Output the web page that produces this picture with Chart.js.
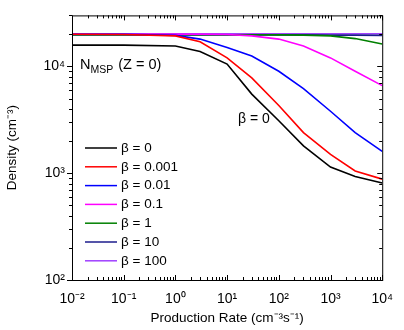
<!DOCTYPE html>
<html>
<head>
<meta charset="utf-8">
<script src="https://cdn.jsdelivr.net/npm/chart.js@4.4.1/dist/chart.umd.min.js"></script>
<style>
    html, body { margin: 0; padding: 0; background: #fff; }
</style>
</head>
<body>
<canvas id="densityChart" width="404" height="330"></canvas>
<script>
// 数据：产生率 与 各 β 下的密度
const rates = [0.01, 0.1, 1, 3, 10, 30, 100, 300, 1000, 3000, 10000];
const beta0    = [15800, 15800, 15500, 13800, 10500, 5500, 3100, 1800, 1140, 930, 810];
const beta0001 = [20000, 19900, 19300, 17000, 12000, 7800, 4300, 2400, 1500, 1050, 880];
const beta001  = [20000, 20000, 19500, 18000, 15000, 12500, 9000, 6200, 3800, 2400, 1600];
const beta01   = [20000, 20000, 20000, 20000, 19900, 19300, 18000, 15500, 12000, 9000, 6600];
const beta1    = [19800, 19800, 19800, 19800, 19800, 19800, 19700, 19600, 19300, 18200, 16200];
const beta10   = [19700, 19700, 19700, 19700, 19700, 19700, 19700, 19700, 19600, 19600, 19500];
const beta100  = [20200, 20200, 20200, 20200, 20200, 20200, 20200, 20200, 20200, 20200, 20200];

const seriesLabels = ['β = 0', 'β = 0.001', 'β = 0.01', 'β = 0.1', 'β = 1', 'β = 10', 'β = 100'];
const seriesColors = ['#000000', '#ff0000', '#0000ff', '#ff00ff', '#008000', '#1c1c8c', '#a040ff'];
const seriesValues = [beta0, beta0001, beta001, beta01, beta1, beta10, beta100];

const xTickValues = [1e-2, 1e-1, 1, 10, 100, 1000, 10000];
const xTickLabels = ['10⁻²', '10⁻¹', '10⁰', '10¹', '10²', '10³', '10⁴'];
const yTickValues = [100, 1000, 10000];
const yTickLabels = ['10²', '10³', '10⁴'];

const FONT = "'Liberation Sans', Arial, sans-serif";

// 边框与刻度线
const frameTicks = {
    id: 'frameTicks',
    afterDatasetsDraw(chart) {
        const { ctx, chartArea: a, scales: { x, y } } = chart;
        ctx.save();
        ctx.strokeStyle = '#000';
        ctx.lineWidth = 1;
        ctx.strokeRect(a.left + 0.5, a.top + 0.5, a.right - a.left, a.bottom - a.top);
        ctx.beginPath();
        for (let d = -2; d <= 4; d++) {
            for (let m = 1; m <= 9; m++) {
                const v = m * Math.pow(10, d);
                if (v > x.max * 1.0001) break;
                const px = Math.round(x.getPixelForValue(v)) + 0.5;
                const len = m === 1 ? 5 : 3;
                ctx.moveTo(px, a.bottom); ctx.lineTo(px, a.bottom - len);
                ctx.moveTo(px, a.top); ctx.lineTo(px, a.top + len);
            }
        }
        for (let d = 2; d <= 4; d++) {
            for (let m = 1; m <= 9; m++) {
                const v = m * Math.pow(10, d);
                if (v > y.max * 1.0001) break;
                const py = Math.round(y.getPixelForValue(v)) + 0.5;
                const len = m === 1 ? 5 : 3;
                ctx.moveTo(a.left - len, py); ctx.lineTo(a.left, py);
                ctx.moveTo(a.right - len, py); ctx.lineTo(a.right, py);
            }
        }
        ctx.stroke();
        ctx.restore();
    }
};

// 图内图例和标注
const insideLegend = {
    id: 'insideLegend',
    afterDraw(chart) {
        const ctx = chart.ctx;
        ctx.save();
        ctx.font = '13.5px ' + FONT;
        ctx.textBaseline = 'middle';
        ctx.fillStyle = '#000';
        chart.data.datasets.forEach((ds, i) => {
            const ly = 148 + i * 18.8;
            ctx.strokeStyle = ds.borderColor;
            ctx.lineWidth = 1.5;
            ctx.beginPath();
            ctx.moveTo(85, ly);
            ctx.lineTo(117, ly);
            ctx.stroke();
            ctx.fillText(ds.label, 121, ly);
        });

        ctx.font = '14.5px ' + FONT;
        ctx.textBaseline = 'alphabetic';
        ctx.fillText('N', 80, 69);
        let nx = 80 + ctx.measureText('N').width;
        ctx.font = '10.5px ' + FONT;
        ctx.fillText('MSP', nx, 73);
        nx += ctx.measureText('MSP').width + 1;
        ctx.font = '14.5px ' + FONT;
        ctx.fillText(' (Z = 0)', nx, 69);

        ctx.font = '14px ' + FONT;
        ctx.textBaseline = 'middle';
        ctx.fillText('β = 0', 238, 119);
        ctx.restore();
    }
};

const ctx = document.getElementById('densityChart').getContext('2d');
new Chart(ctx, {
    type: 'line',
    data: {
        datasets: seriesValues.map((vals, i) => ({
            label: seriesLabels[i],
            data: rates.map((r, j) => ({ x: r, y: vals[j] })),
            borderColor: seriesColors[i],
            borderWidth: 1.6,
            pointRadius: 0,
            tension: 0,
            fill: false
        }))
    },
    options: {
        responsive: false,
        animation: false,
        devicePixelRatio: 1,
        layout: { padding: { top: 10, right: 12, left: 0, bottom: 0 } },
        plugins: {
            legend: { display: false },
            tooltip: { enabled: false }
        },
        scales: {
            x: {
                type: 'logarithmic',
                min: 0.01,
                max: 10000,
                grid: { display: false, drawTicks: false },
                border: { display: false },
                afterBuildTicks: s => { s.ticks = xTickValues.map(v => ({ value: v })); },
                afterFit: s => { s.height = 50; },
                ticks: {
                    autoSkip: false,
                    maxRotation: 0,
                    padding: 11,
                    color: '#000',
                    font: { family: FONT, size: 14 },
                    callback: (v, i) => xTickLabels[i]
                },
                title: {
                    display: true,
                    text: 'Production Rate (cm⁻³s⁻¹)',
                    color: '#000',
                    font: { family: FONT, size: 13.5 },
                    padding: { top: 0, bottom: 4 }
                }
            },
            y: {
                type: 'logarithmic',
                min: 100,
                max: 30000,
                grid: { display: false, drawTicks: false },
                border: { display: false },
                afterBuildTicks: s => { s.ticks = yTickValues.map(v => ({ value: v })); },
                afterFit: s => { s.width = 72; },
                ticks: {
                    autoSkip: false,
                    padding: 7,
                    color: '#000',
                    font: { family: FONT, size: 14 },
                    callback: (v, i) => yTickLabels[i]
                },
                title: {
                    display: true,
                    text: 'Density (cm⁻³)',
                    color: '#000',
                    font: { family: FONT, size: 13.5 },
                    padding: { top: 4, bottom: 0 }
                }
            }
        }
    },
    plugins: [frameTicks, insideLegend]
});
</script>
</body>
</html>
